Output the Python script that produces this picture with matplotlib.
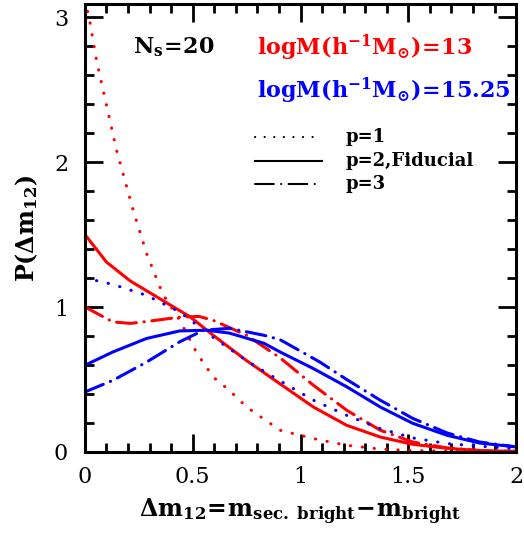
import matplotlib.pyplot as plt
from matplotlib.ticker import MultipleLocator

# values
x_red_p1 = [0.0, 0.023, 0.054, 0.147, 0.224, 0.286, 0.36, 0.44, 0.52, 0.595, 0.67, 0.75,
            0.905, 1.06, 1.214, 1.37, 1.52, 1.7, 2.0]
y_red_p1 = [3.12, 2.97, 2.70, 2.08, 1.667, 1.37, 1.093, 0.908, 0.68, 0.517, 0.425, 0.31,
            0.15, 0.092, 0.046, 0.02, 0.01, 0.005, 0.002]

x_red_p2 = [0.0, 0.10, 0.21, 0.36, 0.49, 0.595, 0.75, 0.905, 1.06, 1.214, 1.37, 1.52,
            1.68, 1.83, 2.0]
y_red_p2 = [1.50, 1.31, 1.18, 1.046, 0.93, 0.805, 0.63, 0.47, 0.31, 0.184, 0.103, 0.053,
            0.025, 0.01, 0.004]

x_red_p3 = [0.0, 0.13, 0.21, 0.286, 0.44, 0.53, 0.595, 0.75, 0.905, 1.06, 1.214, 1.37,
            1.52, 1.68, 1.83, 2.0]
y_red_p3 = [1.0, 0.897, 0.887, 0.90, 0.93, 0.935, 0.908, 0.805, 0.65, 0.46, 0.288, 0.15,
            0.069, 0.028, 0.01, 0.004]

x_blue_p1 = [0.0, 0.13, 0.286, 0.44, 0.595, 0.75, 0.875, 1.06, 1.214, 1.37, 1.52, 1.68,
             1.83, 2.0]
y_blue_p1 = [1.20, 1.156, 1.08, 0.966, 0.79, 0.63, 0.517, 0.357, 0.253, 0.161, 0.097,
             0.058, 0.04, 0.022]

x_blue_p2 = [0.0, 0.13, 0.286, 0.44, 0.565, 0.67, 0.83, 0.905, 1.06, 1.214, 1.37, 1.52,
             1.68, 1.83, 2.0]
y_blue_p2 = [0.598, 0.69, 0.783, 0.835, 0.84, 0.82, 0.75, 0.69, 0.575, 0.45, 0.31, 0.198,
             0.115, 0.062, 0.035]

x_blue_p3 = [0.0, 0.13, 0.286, 0.44, 0.55, 0.67, 0.83, 0.905, 1.09, 1.214, 1.37, 1.52,
             1.68, 1.83, 2.0]
y_blue_p3 = [0.414, 0.494, 0.62, 0.76, 0.84, 0.853, 0.805, 0.775, 0.62, 0.50, 0.357,
             0.232, 0.131, 0.069, 0.035]

plt.rcParams['font.family'] = ['DejaVu Serif']
plt.rcParams['mathtext.fontset'] = 'dejavuserif'
plt.rcParams['mathtext.default'] = 'bf'

fig = plt.figure(figsize=(5.24, 5.33), dpi=100)
ax = fig.add_axes([0.162, 0.152, 0.823, 0.8405])

lw = 2.2
dotted = (0, (0.1, 3.8))
dashdot = (0, (6.5, 2.5, 0.1, 2.5))

ax.plot(x_red_p1, y_red_p1, color='red', lw=lw, ls=dotted, dash_capstyle='round')
ax.plot(x_red_p2, y_red_p2, color='red', lw=lw, ls='-')
ax.plot(x_red_p3, y_red_p3, color='red', lw=lw, ls=dashdot, dash_capstyle='round')
ax.plot(x_blue_p1, y_blue_p1, color='blue', lw=lw, ls=dotted, dash_capstyle='round')
ax.plot(x_blue_p2, y_blue_p2, color='blue', lw=lw, ls='-')
ax.plot(x_blue_p3, y_blue_p3, color='blue', lw=lw, ls=dashdot, dash_capstyle='round')

ax.set_xlim(0, 2)
ax.set_ylim(0, 3.09)
ax.xaxis.set_minor_locator(MultipleLocator(0.1))
ax.yaxis.set_major_locator(MultipleLocator(1))
ax.yaxis.set_minor_locator(MultipleLocator(0.2))
ax.set_xticks([0, 0.5, 1, 1.5, 2])
ax.set_xticklabels(['0', '0.5', '1', '1.5', '2'])
ax.tick_params(which='both', direction='in', top=True, right=True, width=2, labelsize=16)
ax.tick_params(which='major', length=13)
ax.tick_params(which='minor', length=6.5)
ax.tick_params(axis='x', pad=10)
ax.tick_params(axis='y', pad=12)
for s in ax.spines.values():
    s.set_linewidth(2.2)

ax.set_xlabel(r'$\Delta m_{12}\!=\!m_{sec.\ bright}\!-\!m_{bright}$', fontsize=17, labelpad=6)
ax.set_ylabel(r'$P(\Delta m_{12})$', fontsize=17, labelpad=10)

ax.text(0.223, 2.79, r'$N_{s}\!=\!20$', fontsize=16, va='center')
ax.text(0.8, 2.79, r'$logM(h^{-1}M_{\odot})\!=\!13$', color='red', fontsize=16,
        va='center')
ax.text(0.8, 2.49, r'$logM(h^{-1}M_{\odot})\!=\!15.25$', color='blue', fontsize=16,
        va='center')

# legend for line styles
ax.plot([0.79, 1.08], [2.17, 2.17], color='black', lw=1.5, ls=(0, (0.1, 4.5)),
        dash_capstyle='round')
ax.plot([0.79, 1.10], [2.005, 2.005], color='black', lw=1.5, ls='-')
ax.plot([0.79, 1.08], [1.85, 1.85], color='black', lw=1.5, ls=(0, (9, 3.5, 0.1, 3.5)),
        dash_capstyle='round')
ax.text(1.207, 2.17, 'p=1', fontsize=13, fontweight='bold', va='center')
ax.text(1.207, 2.005, 'p=2,Fiducial', fontsize=13, fontweight='bold', va='center')
ax.text(1.207, 1.85, 'p=3', fontsize=13, fontweight='bold', va='center')

plt.savefig('out.png', dpi=100)
